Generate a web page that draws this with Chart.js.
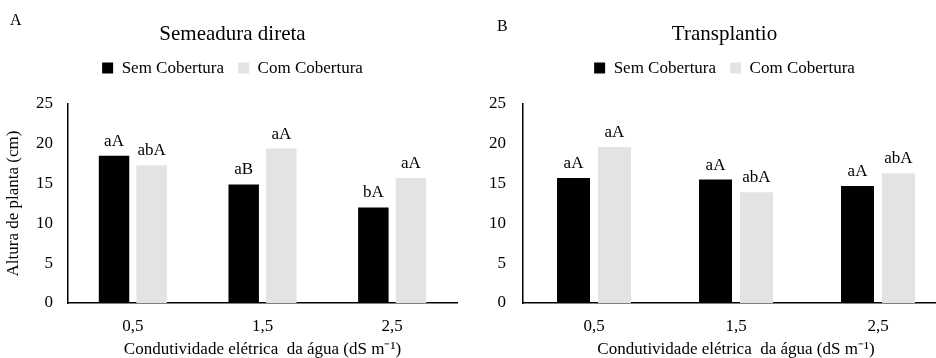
<!DOCTYPE html>
<html>
<head>
<meta charset="utf-8">
<script src="https://cdn.jsdelivr.net/npm/chart.js@4.4.1/dist/chart.umd.min.js"></script>
<style>
  body { margin: 0; background: #fff; }
  #wrap { position: relative; width: 936px; height: 358px; overflow: hidden; }
  canvas { position: absolute; top: 0; }
  .panel-tag { position: absolute; font: 16px 'Liberation Serif', 'Times New Roman', serif; line-height: 16px; color: #000; }
</style>
</head>
<body>
<div id="wrap">
  <canvas id="chartA" width="466" height="358" style="left:0"></canvas>
  <canvas id="chartB" width="483" height="358" style="left:466px"></canvas>
  <div class="panel-tag" style="left:10px; top:12px">A</div>
  <div class="panel-tag" style="left:497px; top:18px">B</div>
</div>
<script>
const categories = ['0,5', '1,5', '2,5'];
const seriesNames = ['Sem Cobertura', 'Com Cobertura'];

const semeaduraSem = [18.5, 14.9, 12.0];
const semeaduraCom = [17.3, 19.4, 15.7];
const semeaduraSemLetters = ['aA', 'aB', 'bA'];
const semeaduraComLetters = ['abA', 'aA', 'aA'];

const transplantioSem = [15.7, 15.5, 14.7];
const transplantioCom = [19.6, 13.9, 16.3];
const transplantioSemLetters = ['aA', 'aA', 'aA'];
const transplantioComLetters = ['aA', 'abA', 'abA'];

const yTicks = [0, 5, 10, 15, 20, 25];

Chart.defaults.font.family = "'Liberation Serif', 'Times New Roman', serif";
Chart.defaults.font.size = 17;
Chart.defaults.color = '#000';

// letters of the mean comparison test above each bar
const letterPlugin = {
    id: 'letters',
    afterDatasetsDraw(chart) {
        const ctx = chart.ctx;
        ctx.save();
        ctx.font = "17px 'Liberation Serif', 'Times New Roman', serif";
        ctx.fillStyle = '#000';
        ctx.textAlign = 'center';
        ctx.textBaseline = 'alphabetic';
        chart.data.datasets.forEach((ds, i) => {
            chart.getDatasetMeta(i).data.forEach((bar, j) => {
                ctx.fillText(ds.letters[j], bar.x, bar.y - 10);
            });
        });
        ctx.restore();
    }
};

// nudges title and legend sideways after layout (panel B is off-centre)
const headerShift = {
    id: 'headerShift',
    afterLayout(chart, args, opts) {
        const dx = opts.dx || 0;
        [chart.titleBlock, chart.legend].forEach(box => {
            if (box) {
                box.left += dx;
                box.right += dx;
            }
        });
    }
};

// panel A has the y title, panel B runs off the right edge of the picture
const panelA = { padding: { left: 8, right: 9, top: 0, bottom: 0 }, yWidth: 60, yPad: 15, catPct: 0.58, barPct: 0.81, dx: 0 };
const panelB = { padding: { left: 0, right: 0, top: 0, bottom: 0 }, yWidth: 57, yPad: 17, catPct: 0.577, barPct: 0.805, dx: 17 };

function makeChart(id, title, sem, com, semLetters, comLetters, showYTitle, panel) {
    const ctx = document.getElementById(id).getContext('2d');
    return new Chart(ctx, {
        type: 'bar',
        data: {
            labels: categories,
            datasets: [{
                label: seriesNames[0],
                data: sem,
                letters: semLetters,
                backgroundColor: '#000000',
                borderWidth: 0
            }, {
                label: seriesNames[1],
                data: com,
                letters: comLetters,
                backgroundColor: '#e3e3e3',
                borderWidth: 0
            }]
        },
        options: {
            responsive: false,
            animation: false,
            categoryPercentage: panel.catPct,
            barPercentage: panel.barPct,
            layout: { padding: panel.padding },
            plugins: {
                headerShift: { dx: panel.dx },
                title: {
                    display: true,
                    text: title,
                    font: { size: 21, weight: 'normal' },
                    color: '#000',
                    padding: { top: 21.4, bottom: -1 }
                },
                legend: {
                    display: true,
                    weight: 1800,
                    labels: {
                        boxWidth: 11,
                        boxHeight: 11,
                        padding: 14,
                        font: { size: 17 },
                        color: '#000'
                    }
                },
                // empty spacer between the legend and the plot
                subtitle: {
                    display: true,
                    text: '',
                    weight: 500,
                    font: { size: 10, lineHeight: 1 },
                    padding: { top: 0, bottom: 7.4 }
                },
                tooltip: { enabled: false }
            },
            scales: {
                x: {
                    grid: { display: false, drawTicks: false },
                    border: { display: true, color: '#000', width: 1.5 },
                    ticks: { padding: 13, font: { size: 17 } },
                    title: {
                        display: true,
                        text: 'Condutividade elétrica  da água (dS m⁻¹)',
                        font: { size: 17 },
                        padding: { top: 0, bottom: -2 }
                    },
                    afterFit: function(scale) {
                        scale.height = 55;
                    }
                },
                y: {
                    min: 0,
                    max: 25,
                    grid: { display: false, drawTicks: false },
                    border: { display: true, color: '#000', width: 1.5 },
                    afterBuildTicks: function(scale) {
                        scale.ticks = yTicks.map(v => ({ value: v }));
                    },
                    ticks: { padding: panel.yPad, font: { size: 17 } },
                    title: {
                        display: showYTitle,
                        text: 'Altura de planta (cm)',
                        font: { size: 17 },
                        padding: { top: -4.2, bottom: 0 }
                    },
                    afterFit: function(scale) {
                        scale.width = panel.yWidth;
                    }
                }
            }
        },
        plugins: [letterPlugin, headerShift]
    });
}

makeChart('chartA', 'Semeadura direta', semeaduraSem, semeaduraCom, semeaduraSemLetters, semeaduraComLetters, true, panelA);
makeChart('chartB', 'Transplantio', transplantioSem, transplantioCom, transplantioSemLetters, transplantioComLetters, false, panelB);
</script>
</body>
</html>
